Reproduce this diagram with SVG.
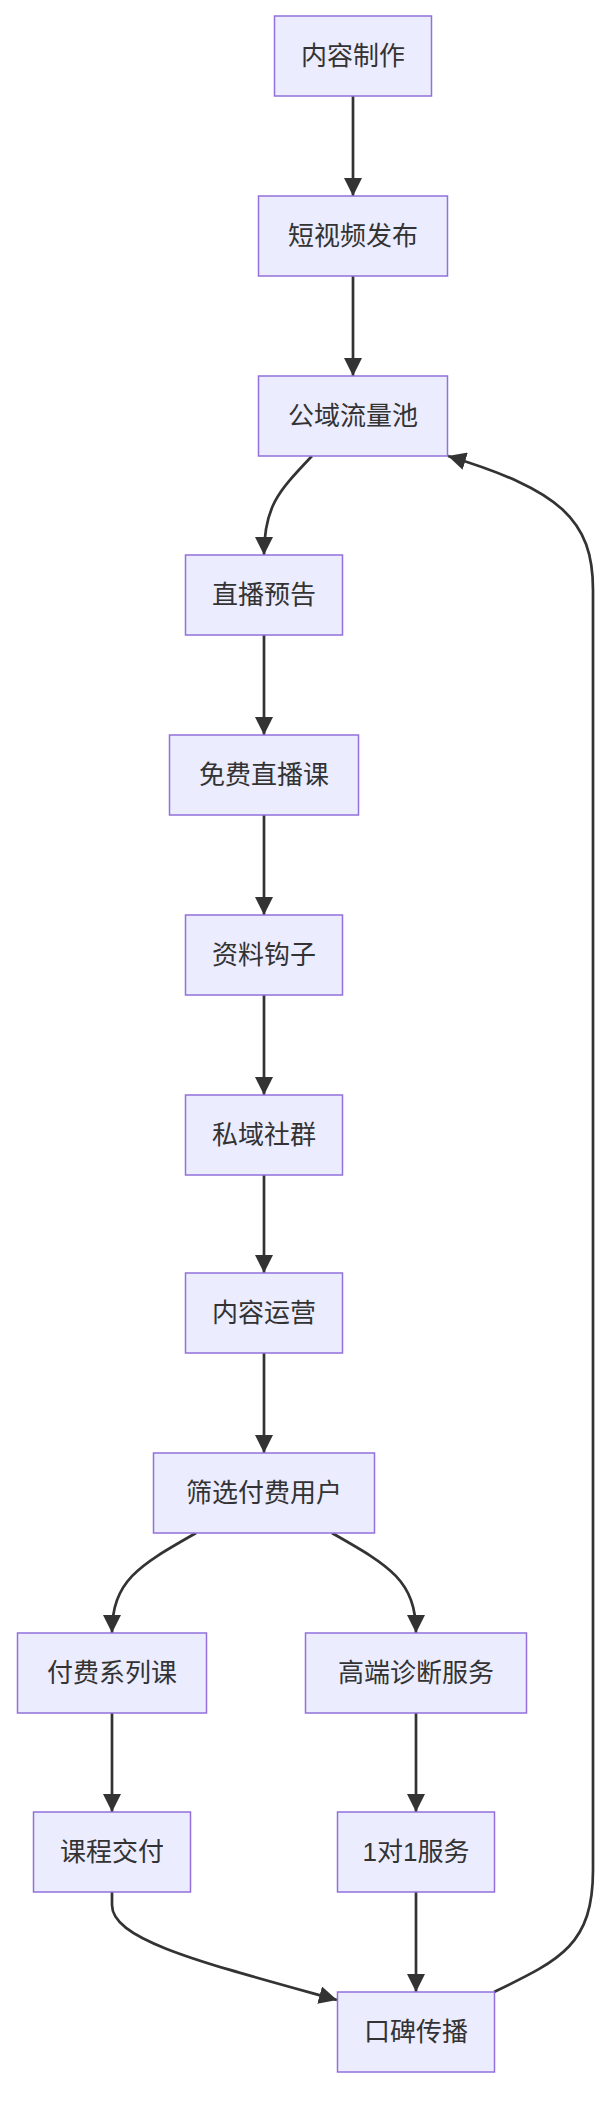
<svg xmlns="http://www.w3.org/2000/svg" width="616" height="2108" viewBox="0 0 616 2108">
<style>
.n rect{fill:#ECECFF;stroke:#9370DB;stroke-width:1.5}
.n text{font-family:"Liberation Sans","Noto Sans CJK SC",sans-serif;font-size:26px;fill:#333;text-anchor:middle;dominant-baseline:central}
.e path{fill:none;stroke:#333;stroke-width:2.7}
</style>
<defs><marker id="a" markerUnits="userSpaceOnUse" markerWidth="18" markerHeight="18" viewBox="0 0 10 10" refX="10" refY="5" orient="auto"><path d="M0,0L10,5L0,10z" fill="#333"/></marker></defs>
<rect width="616" height="2108" fill="#fff"/>
<g class="e">
<path d="M353,96V196" marker-end="url(#a)"/>
<path d="M353,276V376" marker-end="url(#a)"/>
<path d="M312,456C280,490 264,505 264,555" marker-end="url(#a)"/>
<path d="M264,635V735" marker-end="url(#a)"/>
<path d="M264,815V915" marker-end="url(#a)"/>
<path d="M264,995V1095" marker-end="url(#a)"/>
<path d="M264,1175V1273" marker-end="url(#a)"/>
<path d="M264,1353V1453" marker-end="url(#a)"/>
<path d="M196,1533C140,1565 112,1580 112,1633" marker-end="url(#a)"/>
<path d="M332,1533C388,1565 416,1580 416,1633" marker-end="url(#a)"/>
<path d="M112,1713V1812" marker-end="url(#a)"/>
<path d="M416,1713V1812" marker-end="url(#a)"/>
<path d="M416,1892V1992" marker-end="url(#a)"/>
<path d="M112,1892V1905C112,1940 200,1962 337,2000" marker-end="url(#a)"/>
<path d="M494,1992C560,1960 593,1945 593,1870V590C593,520 560,490 448,456" marker-end="url(#a)"/>
</g>
<g id="n1" class="n"><rect x="274.5" y="16" width="157" height="80"/><text x="353" y="56">内容制作</text></g>
<g id="n2" class="n"><rect x="258.5" y="196" width="189" height="80"/><text x="353" y="236">短视频发布</text></g>
<g id="n3" class="n"><rect x="258.5" y="376" width="189" height="80"/><text x="353" y="416">公域流量池</text></g>
<g id="n4" class="n"><rect x="185.5" y="555" width="157" height="80"/><text x="264" y="595">直播预告</text></g>
<g id="n5" class="n"><rect x="169.5" y="735" width="189" height="80"/><text x="264" y="775">免费直播课</text></g>
<g id="n6" class="n"><rect x="185.5" y="915" width="157" height="80"/><text x="264" y="955">资料钩子</text></g>
<g id="n7" class="n"><rect x="185.5" y="1095" width="157" height="80"/><text x="264" y="1135">私域社群</text></g>
<g id="n8" class="n"><rect x="185.5" y="1273" width="157" height="80"/><text x="264" y="1313">内容运营</text></g>
<g id="n9" class="n"><rect x="153.5" y="1453" width="221" height="80"/><text x="264" y="1493">筛选付费用户</text></g>
<g id="n10" class="n"><rect x="17.5" y="1633" width="189" height="80"/><text x="112" y="1673">付费系列课</text></g>
<g id="n11" class="n"><rect x="305.5" y="1633" width="221" height="80"/><text x="416" y="1673">高端诊断服务</text></g>
<g id="n12" class="n"><rect x="33.5" y="1812" width="157" height="80"/><text x="112" y="1852">课程交付</text></g>
<g id="n13" class="n"><rect x="337.5" y="1812" width="157" height="80"/><text x="416" y="1852">1对1服务</text></g>
<g id="n14" class="n"><rect x="337.5" y="1992" width="157" height="80"/><text x="416" y="2032">口碑传播</text></g>
</svg>
